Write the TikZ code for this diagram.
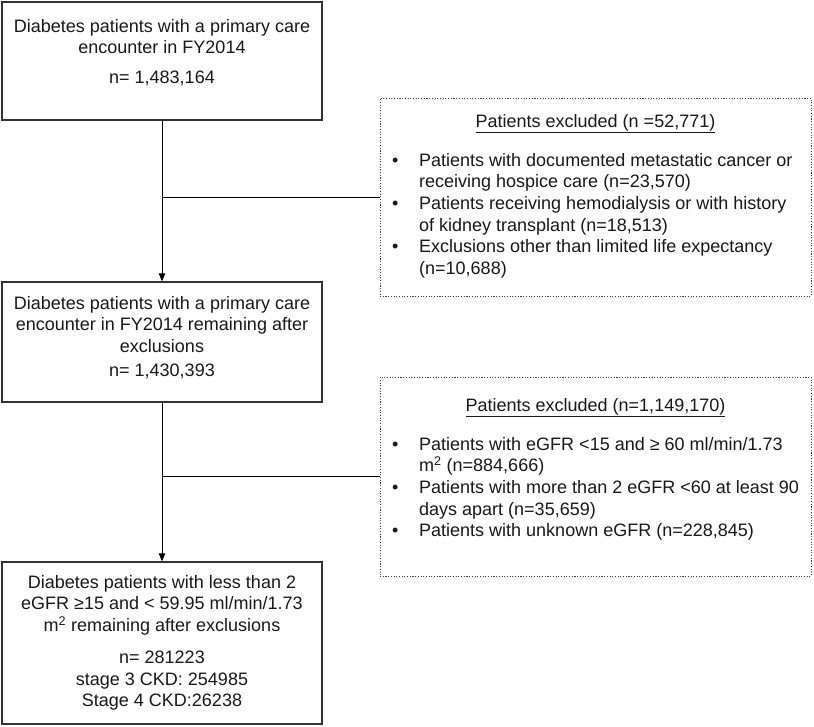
\documentclass[tikz,border=0pt]{standalone}
\usepackage{fontspec}
\setmainfont{Liberation Sans}
\usetikzlibrary{arrows.meta}
\begin{document}
\begin{tikzpicture}[x=1pt,y=-1pt,
  mainbox/.style={draw=black!80, line width=1.3pt, fill=none, inner sep=0pt},
  exbox/.style={draw=black!75, line width=1pt, dash pattern=on 1.1pt off 1.6pt, inner sep=0pt},
  txt/.style={inner sep=0pt, align=center, font=\fontsize{18}{21.7}\selectfont, text=black!90},
  ltxt/.style={inner sep=0pt, align=left, font=\fontsize{18}{21.7}\selectfont, text=black!90},
  conn/.style={draw=black, line width=1pt},
  arr/.style={conn, -{Triangle[length=8pt,width=6.5pt]}}]
\useasboundingbox (0,0) rectangle (814,726);
\fill[white] (0,0) rectangle (814,726);

% boxes
\node[mainbox, minimum width=320pt, minimum height=118pt] (b1) at (162,61) {};
\node[mainbox, minimum width=320pt, minimum height=120pt] (b2) at (162,342) {};
\node[mainbox, minimum width=320pt, minimum height=162pt] (b3) at (162,643) {};
\node[exbox, minimum width=431pt, minimum height=198pt] (e1) at (595.5,197) {};
\node[exbox, minimum width=431pt, minimum height=199pt] (e2) at (595.5,476.5) {};

% texts of main boxes
\node[txt, anchor=north] (t1) at (162,16.8) {\strut Diabetes patients with a primary care\\encounter in FY2014\\[8pt]n= 1,483,164};
\node[txt, anchor=north] (t2) at (162,293.8) {\strut Diabetes patients with a primary care\\encounter in FY2014 remaining after\\exclusions\\[2pt]n= 1,430,393};
\node[txt, anchor=north] (t3) at (162,572.8) {\strut Diabetes patients with less than 2\\eGFR ≥15 and < 59.95 ml/min/1.73\\m\textsuperscript{2} remaining after exclusions\\[10pt]n= 281223\\stage 3 CKD: 254985\\Stage 4 CKD:26238};

% excluded box 1
\node[txt, anchor=base] (h1) at (595.5,127) {\underline{Patients excluded (n =52,771)}};
\node[ltxt, anchor=north west] (l1) at (392,150.8) {%
\begin{tabular}{@{}p{27pt}@{}l@{}}
\textbullet & Patients with documented metastatic cancer or\\
 & receiving hospice care (n=23,570)\\
\textbullet & Patients receiving hemodialysis or with history\\
 & of kidney transplant (n=18,513)\\
\textbullet & Exclusions other than limited life expectancy\\
 & (n=10,688)
\end{tabular}};

% excluded box 2
\node[txt, anchor=base] (h2) at (595.5,411) {\underline{Patients excluded (n=1,149,170)}};
\node[ltxt, anchor=north west] (l2) at (392,434.8) {%
\begin{tabular}{@{}p{27pt}@{}l@{}}
\textbullet & Patients with eGFR <15 and ≥ 60 ml/min/1.73\\
 & m\textsuperscript{2} (n=884,666)\\
\textbullet & Patients with more than 2 eGFR <60 at least 90\\
 & days apart (n=35,659)\\
\textbullet & Patients with unknown eGFR (n=228,845)
\end{tabular}};

% connectors
\draw[arr] (b1.south) -- (b2.north);
\draw[arr] (b2.south) -- (b3.north);
\draw[conn] (e1.west) -- (e1.west -| b1.south);
\draw[conn] (e2.west) -- (e2.west -| b2.south);
\end{tikzpicture}
\end{document}
